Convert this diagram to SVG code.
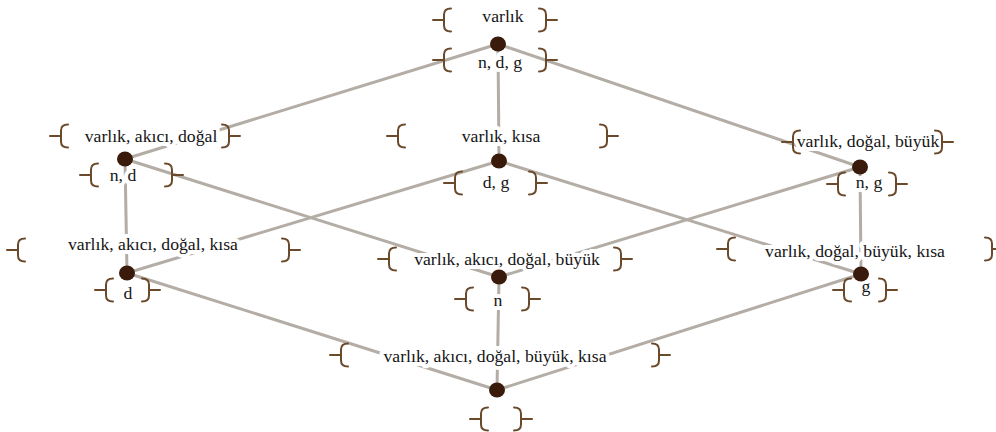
<svg xmlns="http://www.w3.org/2000/svg" xmlns:xlink="http://www.w3.org/1999/xlink" width="996" height="432" viewBox="0 0 996 432">
<style>
.edge{stroke:#b3ada6;stroke-width:3;fill:none;stroke-linecap:round}
.dot{fill:#3a1a0a}
.lbl{font-family:"Liberation Serif","Times New Roman",serif;font-size:17.7px;fill:#151515;text-anchor:middle;stroke:#ffffff;stroke-width:8;stroke-linejoin:round;paint-order:stroke}
.br{stroke:#6b4a2c;stroke-width:2;fill:none;stroke-linecap:round}
</style>
<defs>
<path id="lb" class="br" d="M0 0 H10 M18 -11.5 Q11 -11.5 11 -5.5 V5.5 Q11 11.5 18 11.5"/>
<path id="rb" class="br" d="M0 0 H-10 M-18 -11.5 Q-11 -11.5 -11 -5.5 V5.5 Q-11 11.5 -18 11.5"/>
</defs>
<rect width="996" height="432" fill="#ffffff"/>
<g id="connectors">
<line class="edge" x1="498" y1="44" x2="125" y2="159"/>
<line class="edge" x1="498" y1="44" x2="499" y2="161"/>
<line class="edge" x1="498" y1="44" x2="860" y2="167"/>
<line class="edge" x1="125" y1="159" x2="127" y2="273"/>
<line class="edge" x1="125" y1="159" x2="499" y2="277"/>
<line class="edge" x1="499" y1="161" x2="127" y2="273"/>
<line class="edge" x1="499" y1="161" x2="861" y2="274"/>
<line class="edge" x1="860" y1="167" x2="499" y2="277"/>
<line class="edge" x1="860" y1="167" x2="861" y2="274"/>
<line class="edge" x1="127" y1="273" x2="497" y2="390"/>
<line class="edge" x1="499" y1="277" x2="497" y2="390"/>
<line class="edge" x1="861" y1="274" x2="497" y2="390"/>
</g>
<g id="node-top">
<text class="lbl" x="503" y="22">varlık</text>
<use href="#lb" x="433" y="20"/><use href="#rb" x="557" y="20"/>
<text class="lbl" x="500" y="68">n, d, g</text>
<use href="#lb" x="433" y="60"/><use href="#rb" x="557" y="60"/>
<ellipse class="dot" cx="498" cy="44" rx="8" ry="7.5"/>
</g>
<g id="node-left">
<text class="lbl" x="151" y="142">varlık, akıcı, doğal</text>
<use href="#lb" x="50" y="136"/><use href="#rb" x="240" y="136"/>
<text class="lbl" x="123" y="181">n, d</text>
<use href="#lb" x="80" y="175"/><use href="#rb" x="183" y="175"/>
<ellipse class="dot" cx="125" cy="159" rx="8" ry="7.5"/>
</g>
<g id="node-center">
<text class="lbl" x="501" y="142">varlık, kısa</text>
<use href="#lb" x="387" y="136"/><use href="#rb" x="618" y="136"/>
<text class="lbl" x="496" y="188">d, g</text>
<use href="#lb" x="444" y="183"/><use href="#rb" x="547" y="183"/>
<ellipse class="dot" cx="499" cy="161" rx="8" ry="7.5"/>
</g>
<g id="node-right">
<text class="lbl" x="868" y="147">varlık, doğal, büyük</text>
<use href="#lb" x="782" y="142"/><use href="#rb" x="953" y="142"/>
<text class="lbl" x="869" y="188">n, g</text>
<use href="#lb" x="827" y="184"/><use href="#rb" x="907" y="184"/>
<ellipse class="dot" cx="860" cy="167" rx="8" ry="7.5"/>
</g>
<g id="node-lowleft">
<text class="lbl" x="153" y="250">varlık, akıcı, doğal, kısa</text>
<use href="#lb" x="7" y="250"/><use href="#rb" x="300" y="250"/>
<text class="lbl" x="128" y="299">d</text>
<use href="#lb" x="95" y="290"/><use href="#rb" x="160" y="290"/>
<ellipse class="dot" cx="127" cy="273" rx="8" ry="7.5"/>
</g>
<g id="node-lowcenter">
<text class="lbl" x="507" y="265">varlık, akıcı, doğal, büyük</text>
<use href="#lb" x="378" y="259"/><use href="#rb" x="632" y="259"/>
<text class="lbl" x="498" y="306">n</text>
<use href="#lb" x="455" y="299"/><use href="#rb" x="540" y="299"/>
<ellipse class="dot" cx="499" cy="277" rx="8" ry="7.5"/>
</g>
<g id="node-lowright">
<text class="lbl" x="855" y="257">varlık, doğal, büyük, kısa</text>
<use href="#lb" x="717" y="249"/><use href="#rb" x="1003" y="249"/>
<text class="lbl" x="866" y="292">g</text>
<use href="#lb" x="833" y="290"/><use href="#rb" x="897" y="290"/>
<ellipse class="dot" cx="861" cy="274" rx="8" ry="7.5"/>
</g>
<g id="node-bottom">
<text class="lbl" x="495" y="362">varlık, akıcı, doğal, büyük, kısa</text>
<use href="#lb" x="330" y="355"/><use href="#rb" x="670" y="355"/>
<use href="#lb" x="470" y="419"/><use href="#rb" x="532" y="419"/>
<ellipse class="dot" cx="497" cy="390" rx="8" ry="7.5"/>
</g>
</svg>
